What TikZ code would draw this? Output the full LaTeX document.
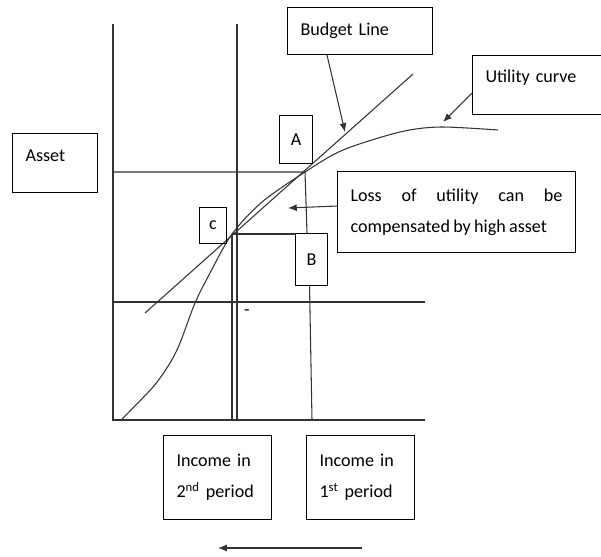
\documentclass[tikz,border=0pt]{standalone}
\usepackage{fontspec}
\setmainfont{Carlito}[WordSpace=0.8]
\usetikzlibrary{calc,arrows.meta}

\begin{document}
\begin{tikzpicture}[
            x=0.02cm, y=-0.02cm,
            >={Latex[length=5pt,width=4pt]},
            ln/.style={
              draw=black!80,
              line width=0.6pt
            },
            lbl/.style={
              draw,
              line width=0.6pt,
              anchor=north west,
              inner xsep=0.26cm,
              align=left,
              font=\fontsize{10.3}{17.5}\selectfont
            },
            pt/.style={
              draw,
              line width=0.6pt,
              anchor=north west,
              inner sep=0pt,
              font=\fontsize{10.3}{17.5}\selectfont
            }
        ]
\useasboundingbox (0,0) rectangle (601,556);

% axes and guide lines
\draw[ln] (113,24) -- (113,420) -- (425,420);
\draw[ln] (237,24) -- (237,420);
\draw[ln] (113,302) -- (425,302);

\coordinate (A) at (305,172);
\coordinate (C) at (232,234);

% budget line and utility curve
\draw[ln] (145,313) -- (413,74);
\draw[ln] plot[smooth] coordinates {(121,420) (153,387) (170,363) (180,343) (195,303)
    (210,273) (232,234) (262,202) (305,172) (343,150) (400,132) (440,127) (498,130)};

% text boxes
\node[lbl, minimum width=1.7cm, minimum height=1.18cm, text width=1.18cm, text depth=0.28cm] (asset) at (12,133) {Asset};
\node[lbl, minimum width=2.9cm, minimum height=0.94cm, text width=2.38cm] (budget) at (287,7) {Budget Line};
\node[lbl, minimum width=2.7cm, minimum height=1.18cm, text width=2.18cm, text depth=0.34cm] (utility) at (472,55) {Utility curve};
\node[lbl, minimum width=4.76cm, minimum height=1.62cm, text width=4.24cm, align=justify] (loss) at (337,171)
    {Loss of utility can be\linebreak \mbox{compensated by high asset}};
\node[lbl, minimum width=2.16cm, minimum height=1.68cm, text width=1.64cm] (inctwo) at (163,435)
    {Income in\\2\textsuperscript{nd} period};
\node[lbl, minimum width=2.16cm, minimum height=1.68cm, text width=1.64cm] (incone) at (306,435)
    {Income in\\1\textsuperscript{st} period};

\node[pt, minimum width=0.66cm, minimum height=0.96cm] (ptA) at (279,115) {A};
\node[pt, minimum width=0.54cm, minimum height=0.72cm] (ptC) at (199,207) {c};
\node[pt, minimum width=0.64cm, minimum height=1.04cm] (ptB) at (295,233) {B};
\node[font=\fontsize{10.3}{12}\selectfont, inner sep=0pt] (dash) at (247,313) {-};

\draw[ln] (113,172) -- (A) -- ($(A |- ptB.north)+(2,0)$);
\draw[ln] (C) -- (C -| ptB.west);
\draw[ln] (C) -- (232,420);
\draw[ln] ($(ptB.south)+(-2,0)$) -- (312,420);

% arrows
\coordinate (bt) at (345,132);
\coordinate (ut) at (443,122);
\coordinate (lt) at (288,208);
\coordinate (r) at (362,548);
\coordinate (l) at (218,548);
\draw[ln, ->] ($(budget.south west)+(40,0)$) -- (bt);
\draw[ln, ->] ($(utility.north west)+(0,38)$) -- (ut);
\draw[ln, ->] ($(loss.north west)+(0,35)$) -- (lt);
\draw[ln, ->] (r) -- (l);

\end{tikzpicture}
\end{document}
